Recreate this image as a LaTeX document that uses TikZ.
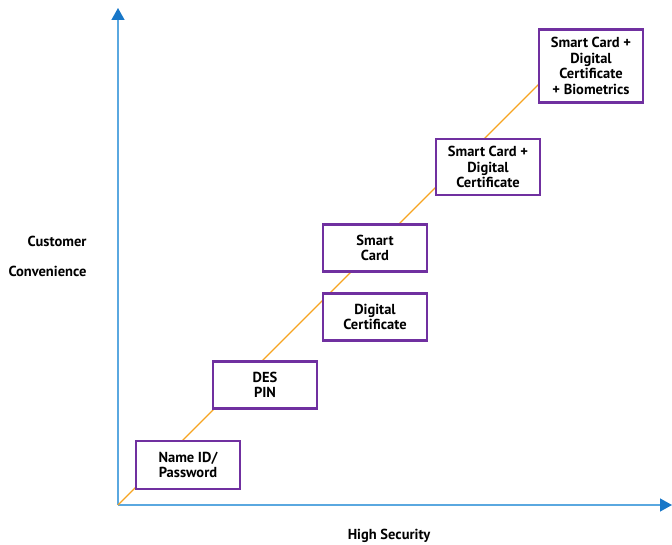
\documentclass[tikz,border=0pt]{standalone}
\usepackage{fontspec}
\setmainfont{PT Sans}
\usetikzlibrary{arrows.meta}
\definecolor{axisline}{HTML}{5AA8E0}
\definecolor{axistip}{HTML}{1877C8}
\definecolor{trendline}{HTML}{F7A420}
\definecolor{boxframe}{HTML}{7030A0}
\begin{document}
\begin{tikzpicture}[x=1pt, y=-1pt,
    axis/.style={line width=1.3pt, color=axisline,
      -{Triangle[color=axistip, width=13pt, length=12pt]}},
    trend/.style={line width=1.1pt, color=trendline},
    level/.style={draw=boxframe, line width=2.8pt, fill=white, align=center,
      minimum width=104pt, inner sep=1pt, font=\bfseries\fontsize{14.5}{15.5}\selectfont},
    caption/.style={font=\bfseries\fontsize{14.5}{16}\selectfont}]
  \useasboundingbox (0,0) rectangle (672,545);
  % Axes and trend
  \coordinate (origin) at (118,505);
  \coordinate (yend) at (118,8);
  \coordinate (xend) at (672,505);
  \coordinate (trendend) at (560,63);
  \draw[axis] (origin) -- (yend);
  \draw[axis] (origin) -- (xend);
  \draw[trend] (origin) -- (trendend);
  % Security levels
  \node[level, minimum height=48pt] (nameid) at (188,465) {Name ID/\\Password};
  \node[level, minimum height=47pt] (despin) at (265,385) {DES\\PIN};
  \node[level, minimum height=47pt] (digcert) at (375,317) {Digital\\Certificate};
  \node[level, minimum height=47pt] (smartcard) at (375,248) {Smart\\Card};
  \node[level, minimum height=56pt] (cardcert) at (488,167) {Smart Card +\\Digital\\Certificate};
  \node[level, minimum height=73pt] (biometric) at (591,66) {Smart Card +\\Digital\\Certificate\\+ Biometrics};
  % Axis captions
  \node[caption, anchor=east] (customer) at (90,241) {Customer};
  \node[caption, anchor=east] (convenience) at (90,271) {Convenience};
  \node[caption] (security) at (389,536) {High Security};
\end{tikzpicture}
\end{document}
